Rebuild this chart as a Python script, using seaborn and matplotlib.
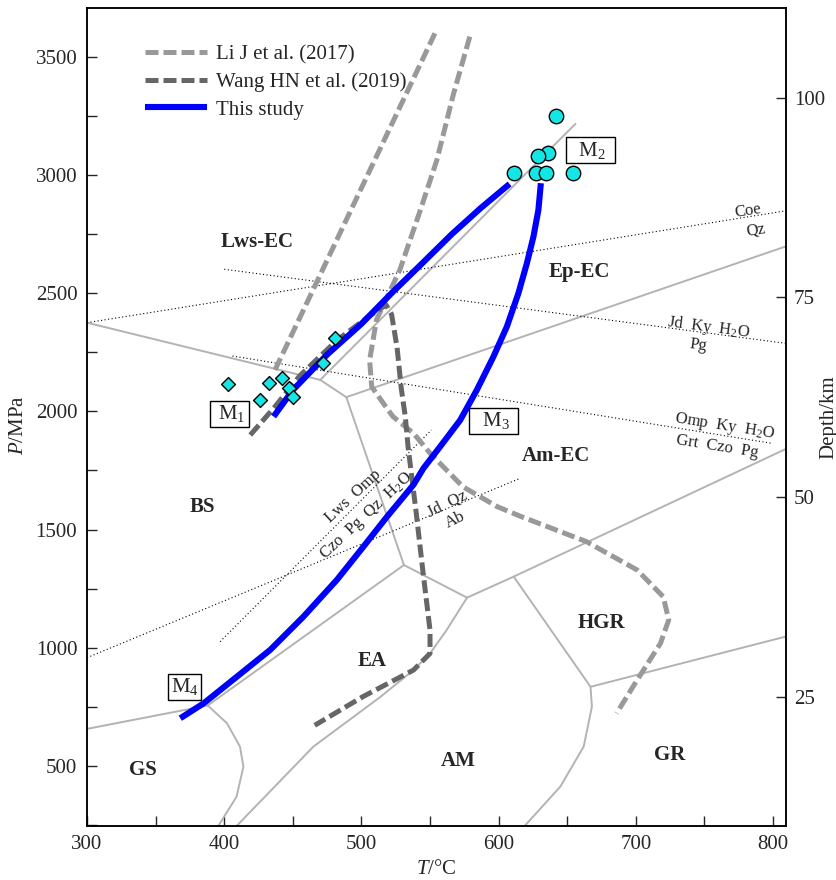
import matplotlib
matplotlib.use("Agg")
import matplotlib.pyplot as plt
from matplotlib.ticker import MultipleLocator
import seaborn as sns

# --- facies boundaries (T in degC, P in MPa) ---
bs_lws_T = [300, 470]
bs_lws_P = [2375, 2133]
lws_ep_T = [470, 656]
lws_ep_P = [2133, 3216]
lws_am_T = [470, 489]
lws_am_P = [2133, 2060]
ep_am_T = [489, 809]
ep_am_P = [2060, 2697]
bs_am_T = [489, 531]
bs_am_P = [2060, 1350]
bs_ea_T = [388, 531]
bs_ea_P = [756, 1350]
ea_am_T = [531, 577]
ea_am_P = [1350, 1212]
am_hgr_T = [577, 611, 809]
am_hgr_P = [1212, 1301, 1840]
hgr_am_T = [611, 667]
hgr_am_P = [1301, 835]
hgr_gr_T = [667, 809]
hgr_gr_P = [835, 1047]
am_gr_T = [667, 668, 662, 645, 618]
am_gr_P = [835, 751, 582, 413, 240]
ea_amb_T = [577, 562, 550, 538, 514, 465, 408]
ea_amb_P = [1212, 1074, 976, 906, 793, 582, 240]
gs_top_T = [300, 388]
gs_top_P = [657, 756]
gs_side_T = [388, 402, 411.5, 414, 409, 395]
gs_side_P = [756, 681, 582, 497, 370, 240]

# --- reaction lines (dotted) ---
coe_qz_T = [300, 809]
coe_qz_P = [2375, 2848]
jd_ky_T = [400, 809]
jd_ky_P = [2601, 2288]
omp_ky_T = [406, 799]
omp_ky_P = [2234, 1865]
jd_qz_T = [300, 615]
jd_qz_P = [958, 1715]
lws_omp_T = [397, 551]
lws_omp_P = [1026, 1921]

# --- published P-T paths ---
li1_T = [437, 553.6]
li1_P = [2175, 3599]
li2_T = [579, 567, 555, 543, 528, 511, 506, 507.5, 516, 523, 538, 550, 574,
         599, 616, 664, 701, 720, 724, 718, 701, 686]
li2_P = [3585, 3340, 3063, 2852, 2598, 2387, 2217, 2104, 2034, 1978, 1907, 1823,
         1681, 1597, 1556, 1449, 1329, 1216, 1118, 1019, 864, 723]
wang_T = [419, 437, 455, 482, 505, 518, 522, 526, 529, 532, 534, 540, 545, 550,
          550, 538, 501, 466]
wang_P = [1900, 2020, 2150, 2300, 2400, 2450, 2410, 2270, 2100, 1977, 1851, 1568,
          1315, 1075, 976, 906, 793, 672]

# --- this study ---
path_up_T = [436, 450, 475, 500, 522, 545, 566, 587, 608]
path_up_P = [1978, 2090, 2240, 2370, 2500, 2630, 2750, 2860, 2962]
path_down_T = [630.8, 629.0, 625.4, 620.6, 614.4, 606.0, 596.2, 584.1, 572.0, 557.4,
               545.2, 538, 518.6, 501.5, 482.1, 457.8, 433.5, 409.3, 385.0, 368.0]
path_down_P = [2965, 2852, 2739, 2626, 2499, 2358, 2231, 2090, 1963, 1851,
               1759, 1690, 1554, 1428, 1287, 1132, 991, 878, 765, 702]

m1_T = [403, 433, 442, 426, 447, 450, 472, 481]
m1_P = [2116, 2121, 2140, 2048, 2098, 2060, 2206, 2309]
m2_T = [642, 636, 629, 611.5, 627, 634.5, 654]
m2_P = [3251, 3091, 3082, 3007, 3010, 3010, 3010]

facies_names = ["Lws-EC", "Ep-EC", "Am-EC", "BS", "EA", "AM", "GS", "HGR", "GR"]
facies_T = [424, 659, 642, 384, 507.5, 570.6, 341, 675, 724.4]
facies_P = [2715, 2591, 1811, 1597, 944, 521, 483, 1106, 546]

stage_names = [" M$_1$ ", "  M$_2$  ", "  M$_3$  ", "M$_4$"]
stage_T = [404, 667, 596.5, 371]
stage_P = [1989, 3105, 1961, 835]

rx_names = ["Coe", "Qz", "Jd  Ky  H$_2$O", "Pg", "Omp  Ky  H$_2$O", "Grt  Czo  Pg",
            "Jd  Qz", "Ab", "Lws  Omp", "Czo  Pg  Qz  H$_2$O"]
rx_T = [781.6, 787.6, 752.9, 745.6, 765.2, 759.7, 562.2, 568.7, 494.1, 503.9]
rx_P = [2849, 2766, 2355, 2281, 1935, 1851, 1608, 1541, 1639, 1558]
rx_rot = [9, 9, -7.5, -7.5, -9, -9, 26, 26, 43, 43]

sns.set_style("ticks")
plt.rcParams['font.family'] = ['Liberation Serif', 'DejaVu Serif']
plt.rcParams['mathtext.fontset'] = 'custom'
plt.rcParams['mathtext.rm'] = 'Liberation Serif'
plt.rcParams['mathtext.it'] = 'Liberation Serif:italic'
plt.rcParams['mathtext.bf'] = 'Liberation Serif:bold'

fig = plt.figure(figsize=(8.37, 8.8), dpi=100)
ax = fig.add_axes([0.10394, 0.0617, 0.83477, 0.9292])


def draw(T, P, **kw):
    sns.lineplot(x=T, y=P, sort=False, estimator=None, ax=ax, **kw)


grey = '#b3b3b3'
for T, P in [(bs_lws_T, bs_lws_P), (lws_ep_T, lws_ep_P), (lws_am_T, lws_am_P),
             (ep_am_T, ep_am_P), (bs_am_T, bs_am_P), (bs_ea_T, bs_ea_P),
             (ea_am_T, ea_am_P), (am_hgr_T, am_hgr_P), (hgr_am_T, hgr_am_P),
             (hgr_gr_T, hgr_gr_P), (am_gr_T, am_gr_P), (ea_amb_T, ea_amb_P),
             (gs_top_T, gs_top_P), (gs_side_T, gs_side_P)]:
    draw(T, P, color=grey, lw=1.4, zorder=1)

for T, P in [(coe_qz_T, coe_qz_P), (jd_ky_T, jd_ky_P), (omp_ky_T, omp_ky_P),
             (jd_qz_T, jd_qz_P), (lws_omp_T, lws_omp_P)]:
    draw(T, P, color='black', lw=0.8, linestyle=(0, (1, 2.2)), zorder=1)

dash = (0, (2.6, 1.0))
draw(li1_T, li1_P, color='#999999', lw=3.6, linestyle=dash, zorder=2,
     label='Li J et al. (2017)')
draw(li2_T, li2_P, color='#999999', lw=3.6, linestyle=dash, zorder=2)
draw(wang_T, wang_P, color='#666666', lw=3.6, linestyle=dash, zorder=2,
     label='Wang HN et al. (2019)')
draw(path_up_T, path_up_P, color='#0000ff', lw=4.4, zorder=3, label='This study',
     solid_capstyle='butt')
draw(path_down_T, path_down_P, color='#0000ff', lw=4.4, zorder=3,
     solid_capstyle='butt')

sns.scatterplot(x=m1_T, y=m1_P, marker='D', s=50, color='#14e6e6',
                edgecolor='black', linewidth=1, zorder=5, ax=ax)
sns.scatterplot(x=m2_T, y=m2_P, marker='o', s=108, color='#14e6e6',
                edgecolor='black', linewidth=1, zorder=5, ax=ax)

for name, T, P in zip(facies_names, facies_T, facies_P):
    ax.text(T, P, name, ha='center', va='center', fontsize=15, fontweight='bold')

for name, T, P in zip(stage_names, stage_T, stage_P):
    ax.text(T, P, name, ha='center', va='center', fontsize=15, zorder=6,
            bbox=dict(boxstyle='square,pad=0.12', fc='white', ec='black', lw=1))

for name, T, P, r in zip(rx_names, rx_T, rx_P, rx_rot):
    ax.text(T, P, name, ha='center', va='center', fontsize=12, rotation=r,
            rotation_mode='anchor')

ax.set_xlim(300, 809.25)
ax.set_ylim(247.5, 3706)
ax.xaxis.set_major_locator(MultipleLocator(100))
ax.xaxis.set_minor_locator(MultipleLocator(50))
ax.yaxis.set_major_locator(MultipleLocator(500))
ax.yaxis.set_minor_locator(MultipleLocator(250))
ax.tick_params(which='both', direction='in', length=7, width=1, labelsize=15,
               pad=7, top=False, right=False)
ax.set_xlabel('$T$/°C', fontsize=15, labelpad=4)
ax.set_ylabel('$P$/MPa', fontsize=15)
ax.yaxis.set_label_coords(-0.084, 0.49)
for sp in ax.spines.values():
    sp.set_linewidth(1.1)
    sp.set_color('black')

ax2 = ax.twinx()
ax2.set_ylim(8.9, 111.2)
ax2.set_yticks([25, 50, 75, 100])
ax2.tick_params(direction='in', length=7, width=1, labelsize=15, pad=6)
ax2.set_ylabel('Depth/km', fontsize=15)
ax2.yaxis.set_label_coords(1.048, 0.5)
for sp in ax2.spines.values():
    sp.set_linewidth(1.1)
    sp.set_color('black')

handles, labels = ax.get_legend_handles_labels()
ax.legend(handles, labels, loc='upper left', bbox_to_anchor=(0.083, 0.955),
          frameon=False, fontsize=15, handlelength=3.0, handletextpad=0.4,
          labelspacing=0.38, borderaxespad=0, borderpad=0)

fig.savefig('out.png', dpi=100)
